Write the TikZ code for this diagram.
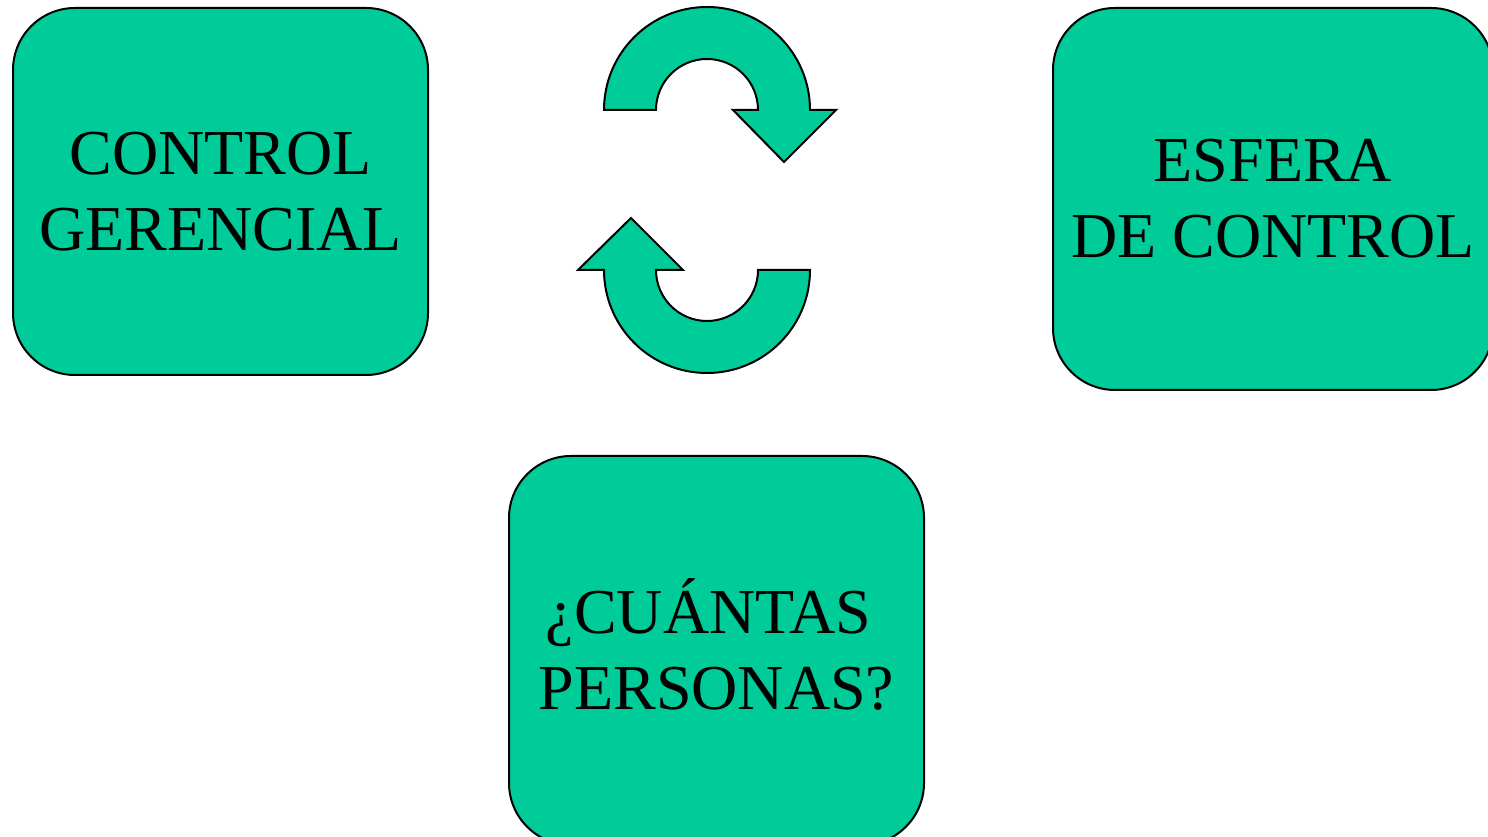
\documentclass[tikz,border=0pt]{standalone}
\usepackage{fontspec}
\setmainfont{Liberation Serif}
\definecolor{verde}{HTML}{00CC99}

\begin{document}
\begin{tikzpicture}[x=1pt,y=1pt,
  caja/.style={draw=black,line width=2pt,fill=verde,rounded corners=62pt,
    align=center,font=\fontsize{64}{76}\selectfont,inner sep=0pt},
  flecha/.style={draw=black,line width=2pt,fill=verde,line join=miter}]

\useasboundingbox (0,0) rectangle (1488,837);
\clip (0,0) rectangle (1488,837);

\coordinate (ctrl-ger) at (220.5,645.5);
\coordinate (esfera) at (1273,638);
\coordinate (personas) at (716.5,186.5);

\coordinate (top-c) at (707,727);
\coordinate (bot-c) at (707,567);

\node [caja,minimum width=415pt,minimum height=367pt] (box-ctrl) at (ctrl-ger) {CONTROL\\GERENCIAL};
\node [caja,minimum width=440pt,minimum height=382pt] (box-esf) at (esfera) {ESFERA\\DE CONTROL};
\node [caja,minimum width=415pt,minimum height=389pt] (box-per) at (personas) {¿CU\smash{Á}NTAS\hspace*{16pt}\\PERSONAS?};

\draw [flecha] ([xshift=-103pt]top-c) arc[start angle=180,end angle=0,radius=103]
  -- ([xshift=129pt]top-c) -- ([xshift=77pt,yshift=-52pt]top-c) -- ([xshift=26pt]top-c)
  -- ([xshift=51pt]top-c) arc[start angle=0,end angle=180,radius=51] -- cycle;

\draw [flecha] ([xshift=103pt]bot-c) -- ([xshift=51pt]bot-c)
  arc[start angle=0,end angle=-180,radius=51]
  -- ([xshift=-24pt]bot-c) -- ([xshift=-76pt,yshift=52pt]bot-c) -- ([xshift=-129pt]bot-c)
  -- ([xshift=-103pt]bot-c) arc[start angle=180,end angle=360,radius=103] -- cycle;

\end{tikzpicture}
\end{document}
